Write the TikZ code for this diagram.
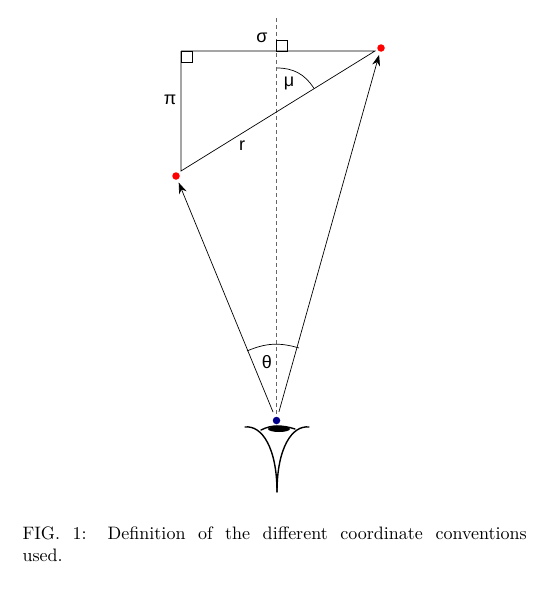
\documentclass[tikz,border=0pt]{standalone}
\usepackage{fontspec}
\setsansfont{Liberation Sans}
\usetikzlibrary{arrows.meta}
\definecolor{obsblue}{RGB}{0,0,139}
\tikzset{
  point/.style={circle,fill=#1,inner sep=0pt,minimum size=7.5pt},
  letter/.style={font=\fontsize{18}{18}\sffamily,inner sep=0pt},
  sight/.style={-{Stealth[length=11pt,width=8pt]},line width=0.7pt,shorten >=3pt,shorten <=5pt},
  eyeline/.style={line width=1.4pt,line cap=round}
}
\begin{document}
\begin{tikzpicture}[x=1pt,y=-1pt,line width=0.7pt]
\useasboundingbox (0,0) rectangle (542,589);

\draw(176,176) node[point=red] (near) {};
\draw(381,48) node[point=red] (far) {};
\draw(276.5,420.5) node[point=obsblue] (obs) {};

\coordinate (top) at (276.5,18);
\coordinate (cornerA) at (181,51);
\coordinate (cornerB) at (181,171);
\coordinate (cornerC) at (375,51);

% axis
\draw[dash pattern=on 4pt off 3pt,black!60,line width=1.2pt] (top) -- (obs);

% triangle
\draw(cornerA) -- (cornerC) -- (cornerB) -- (cornerA);
\draw[line width=0.5pt] (181,51) rectangle (192,62);
\draw[line width=0.5pt] (276,40) rectangle (287,51);

\draw[sight] (obs) -- (near);
\draw[sight] (obs) -- (far);

% angles
\coordinate (muA) at (277,68);
\coordinate (muB) at (314,88.5);
\coordinate (thetaA) at (247,351);
\coordinate (thetaB) at (299,348);
\draw(muA) to[bend left=29] (muB);
\draw(thetaA) to[bend left=20] (thetaB);

\draw(262,38) node[letter] (sigma) {σ};
\draw(170,100) node[letter] (pi) {π};
\draw(289,83) node[letter] (mu) {μ};
\draw(242,146) node[letter] (r) {r};
\draw(267,362) node[letter] (theta) {θ};

% eye
\coordinate (lidL) at (245,427);
\coordinate (lidR) at (309,427);
\coordinate (base) at (277,492);
\coordinate (lidMid) at (277,426);
\draw[eyeline] (lidL) .. controls (262,425) and (277,448) .. (base);
\draw[eyeline] (lidR) .. controls (292,425) and (277,448) .. (base);
\draw[eyeline] (261,430) .. controls (267,427) and (272,426) .. (lidMid);
\draw[eyeline] (lidMid) .. controls (283,426) and (289,427) .. (295,429);
\fill(279,429) ellipse (11 and 3);

\draw(22,544) node[anchor=west,inner sep=0pt,scale=1.8,text width=280pt,align=justify,font=\fontsize{10}{12.2}\selectfont] (caption) {FIG. 1: Definition of the different coordinate conventions\linebreak used.};
\end{tikzpicture}
\end{document}
